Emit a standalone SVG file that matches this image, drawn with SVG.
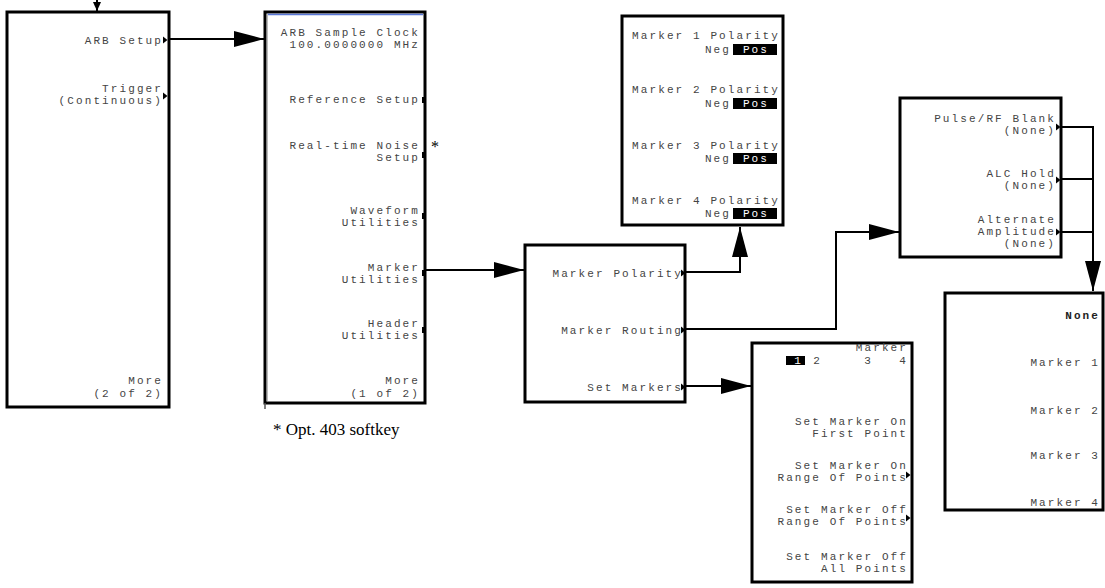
<svg xmlns="http://www.w3.org/2000/svg" xmlns:xlink="http://www.w3.org/1999/xlink" width="1105" height="588" viewBox="0 0 1105 588">
<style>
.box{fill:#fff;stroke:#000;stroke-width:3}
.t{font-family:"Liberation Mono","DejaVu Sans Mono",monospace;font-size:11px;letter-spacing:2.1px;fill:#444;text-anchor:end}
.b{font-weight:bold;fill:#222}
.w{fill:#fff}
.c{fill:none;stroke:#000;stroke-width:2}
.serif{font-family:"Liberation Serif","Times New Roman",serif;fill:#000}
</style>
<defs>
<marker id="big" markerUnits="userSpaceOnUse" markerWidth="31" markerHeight="17" refX="30" refY="8" orient="auto">
<path d="M0,0 L30,8 L0,16 z" fill="#000"/>
</marker>
<marker id="small" markerUnits="userSpaceOnUse" markerWidth="10" markerHeight="9" refX="9" refY="4" orient="auto">
<path d="M0,0 L9,4 L0,8 z" fill="#000"/>
</marker>
<path id="tri" d="M0,-3.5 L4.5,0 L0,3.5 z" fill="#000"/>
<rect id="sq" x="-2" y="-3" width="4" height="6" fill="#000"/>
</defs>

<g id="connectors">
<line class="c" x1="97" y1="0" x2="97" y2="11" marker-end="url(#small)"/>
<line class="c" x1="170" y1="39" x2="264" y2="39" marker-end="url(#big)"/>
<line class="c" x1="425" y1="270" x2="524" y2="270" marker-end="url(#big)"/>
<polyline class="c" points="685,272 740,272 740,227" marker-end="url(#big)"/>
<polyline class="c" points="685,329 836,329 836,232 899,232" marker-end="url(#big)"/>
<line class="c" x1="685" y1="386" x2="751" y2="386" marker-end="url(#big)"/>
<polyline class="c" points="1061,127 1093,127 1093,291" marker-end="url(#big)"/>
<line class="c" x1="1061" y1="179" x2="1093" y2="179"/>
<line class="c" x1="1061" y1="232" x2="1093" y2="232"/>
</g>

<g id="node-more2">
<rect class="box" x="7" y="12" width="162" height="395"/>
<text class="t" x="163" y="44">ARB Setup</text>
<use href="#tri" x="163" y="40"/>
<text class="t" x="163" y="92">Trigger</text>
<text class="t" x="163" y="104">(Continuous)</text>
<use href="#tri" x="163" y="96"/>
<text class="t" x="163" y="384">More</text>
<text class="t" x="163" y="397">(2 of 2)</text>
</g>

<g id="node-arb">
<rect class="box" x="265" y="12" width="160" height="391"/>
<line x1="267" y1="14.5" x2="423" y2="14.5" stroke="#5a78d8" stroke-width="1.5"/>
<line x1="267.5" y1="14" x2="267.5" y2="401" stroke="#bbb" stroke-width="1"/>
<line x1="265" y1="403" x2="265" y2="409" stroke="#555" stroke-width="1.5"/>
<text class="t" x="420" y="36">ARB Sample Clock</text>
<text class="t" x="420" y="48">100.0000000 MHz</text>
<text class="t" x="420" y="103">Reference Setup</text>
<use href="#sq" x="424" y="100"/>
<text class="t" x="420" y="149">Real-time Noise</text>
<text class="t" x="420" y="161">Setup</text>
<use href="#sq" x="424" y="155"/>
<text class="t" x="420" y="214">Waveform</text>
<text class="t" x="420" y="226">Utilities</text>
<use href="#sq" x="424" y="216"/>
<text class="t" x="420" y="271">Marker</text>
<text class="t" x="420" y="283">Utilities</text>
<use href="#sq" x="424" y="273"/>
<text class="t" x="420" y="327">Header</text>
<text class="t" x="420" y="339">Utilities</text>
<use href="#sq" x="424" y="330"/>
<text class="t" x="420" y="384">More</text>
<text class="t" x="420" y="397">(1 of 2)</text>
</g>

<g id="note">
<text class="serif" x="431" y="152" font-size="16">*</text>
<text class="serif" x="273" y="435" font-size="17">* Opt. 403 softkey</text>
</g>

<g id="node-marker-utilities">
<rect class="box" x="525" y="245" width="160" height="157"/>
<text class="t" x="683" y="277">Marker Polarity</text>
<use href="#tri" x="681" y="273"/>
<text class="t" x="683" y="334">Marker Routing</text>
<use href="#tri" x="681" y="330"/>
<text class="t" x="683" y="391">Set Markers</text>
<use href="#tri" x="681" y="387"/>
</g>

<g id="node-polarity">
<rect class="box" x="622" y="16" width="161" height="209"/>
<text class="t" x="780" y="39">Marker 1 Polarity</text>
<text class="t" x="731" y="53">Neg</text>
<rect x="733" y="44" width="44" height="11" fill="#000"/>
<text class="t w" x="769" y="53">Pos</text>
<text class="t" x="780" y="93">Marker 2 Polarity</text>
<text class="t" x="731" y="107">Neg</text>
<rect x="733" y="98" width="44" height="11" fill="#000"/>
<text class="t w" x="769" y="107">Pos</text>
<text class="t" x="780" y="149">Marker 3 Polarity</text>
<text class="t" x="731" y="162">Neg</text>
<rect x="733" y="153" width="44" height="11" fill="#000"/>
<text class="t w" x="769" y="162">Pos</text>
<text class="t" x="780" y="204">Marker 4 Polarity</text>
<text class="t" x="731" y="217">Neg</text>
<rect x="733" y="208" width="44" height="11" fill="#000"/>
<text class="t w" x="769" y="217">Pos</text>
</g>

<g id="node-routing">
<rect class="box" x="900" y="98" width="161" height="159"/>
<text class="t" x="1056" y="122">Pulse/RF Blank</text>
<text class="t" x="1056" y="134">(None)</text>
<use href="#tri" x="1056" y="127"/>
<text class="t" x="1056" y="177">ALC Hold</text>
<text class="t" x="1056" y="189">(None)</text>
<use href="#tri" x="1056" y="180"/>
<text class="t" x="1056" y="223">Alternate</text>
<text class="t" x="1056" y="235">Amplitude</text>
<text class="t" x="1056" y="247">(None)</text>
<use href="#tri" x="1056" y="232"/>
</g>

<g id="node-routing-choices">
<rect class="box" x="945" y="293" width="158" height="217"/>
<text class="t b" x="1100" y="319">None</text>
<text class="t" x="1100" y="366">Marker 1</text>
<text class="t" x="1100" y="414">Marker 2</text>
<text class="t" x="1100" y="459">Marker 3</text>
<text class="t" x="1100" y="506">Marker 4</text>
</g>

<g id="node-set-markers">
<rect class="box" x="752" y="343" width="160" height="239"/>
<text class="t" x="908" y="351">Marker</text>
<rect x="786" y="356" width="19" height="9" fill="#000"/>
<text class="t w" x="803" y="364">1</text>
<text class="t" x="822" y="364">2</text>
<text class="t" x="873" y="364">3</text>
<text class="t" x="908" y="364">4</text>
<text class="t" x="908" y="425">Set Marker On</text>
<text class="t" x="908" y="437">First Point</text>
<text class="t" x="908" y="469">Set Marker On</text>
<text class="t" x="908" y="481">Range Of Points</text>
<use href="#tri" x="906" y="475"/>
<text class="t" x="908" y="513">Set Marker Off</text>
<text class="t" x="908" y="525">Range Of Points</text>
<use href="#tri" x="906" y="518"/>
<text class="t" x="908" y="560">Set Marker Off</text>
<text class="t" x="908" y="572">All Points</text>
</g>
</svg>
